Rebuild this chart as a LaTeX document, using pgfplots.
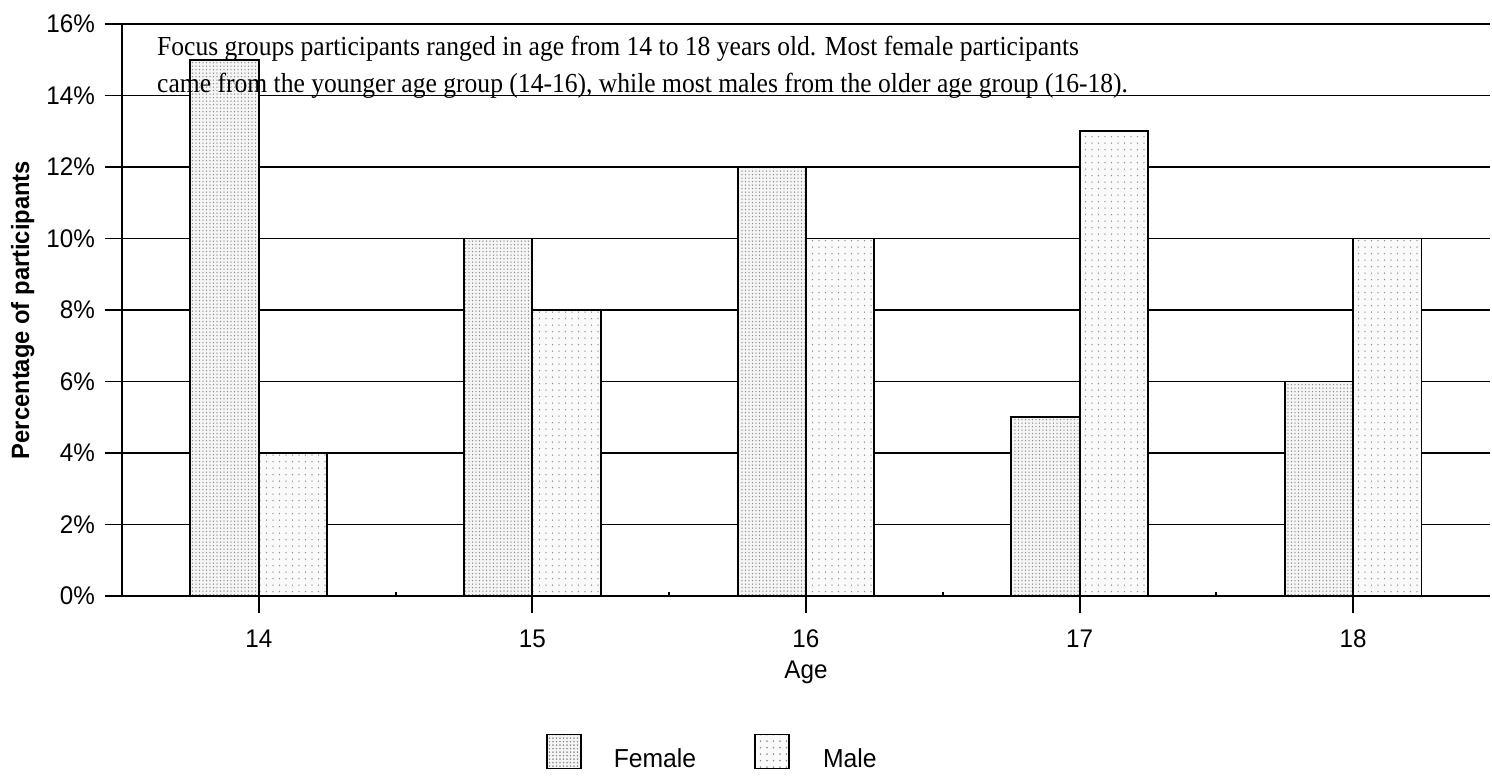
\documentclass[border=0pt]{standalone}
\usepackage{fontspec}
\setmainfont[FakeStretch=0.95]{Liberation Sans}
\newfontfamily\tnr[FakeStretch=0.93]{Liberation Serif}
\usepackage{pgfplots}
\pgfplotsset{compat=1.18}
\usetikzlibrary{patterns.meta}
\begin{document}
\begin{tikzpicture}
\begin{axis}[
  scale only axis,
  width=1368bp, height=572bp,
  xmin=13.5, xmax=18.5,
  ymin=0, ymax=16,
  axis lines=left,
  axis line style={-, line width=1.9bp},
  xtick={14,15,16,17,18},
  ytick={0,2,...,16},
  tick align=outside,
  major tick length=17bp,
  tick style={line width=1.9bp, black},
  extra x ticks={14.5,15.5,16.5,17.5},
  extra x tick labels={},
  extra x tick style={tick align=inside, major tick length=4bp, grid=none},
  ymajorgrids,
  grid style={line width=1.6bp, black},
  /pgf/number format/assume math mode=true,
  yticklabel={\pgfmathprintnumber{\tick}\%},
  tick label style={font=\fontsize{25.5bp}{30bp}\selectfont},
  yticklabel style={xshift=-6.5bp},
  xticklabel style={anchor=base, yshift=-34bp},
  xlabel={Age},
  xlabel style={font=\fontsize{25.5bp}{30bp}\selectfont, at={(rel axis cs:0.5,-0.1434)}, anchor=base},
  ylabel={\textbf{Percentage of participants}},
  ylabel style={font=\fontsize{25bp}{30bp}\selectfont, at={(rel axis cs:-0.0725,0.5)}, anchor=center},
  bar width=0.25,
  legend columns=2,
  legend style={draw=none, at={(rel axis cs:0.3099,-0.2812)}, anchor=west,
    inner sep=0pt, outer sep=0pt,
    nodes={inner sep=0pt, outer sep=0pt},
    font=\fontsize{26bp}{30bp}\selectfont,
    /tikz/every even column/.append style={column sep=58bp},
    /tikz/every odd column/.append style={column sep=0bp}},
  legend cell align=left,
]
\addplot[ybar, bar shift=-0.125, draw=black, line width=1.9bp, fill=gray!8,
  postaction={pattern={Dots[distance=3.5bp, radius=0.7bp]}, pattern color=gray!90},
  legend image code/.code={\draw[draw=black, line width=1.9bp, fill=gray!8, postaction={pattern={Dots[distance=3.5bp, radius=0.7bp]}, pattern color=gray!90}] (0bp,-4bp) rectangle (34bp,30bp);}]
  coordinates {(14,15) (15,10) (16,12) (17,5) (18,6)};
\addlegendentry{\hspace{32bp}\raisebox{11bp}{Female}}
\addplot[ybar, bar shift=0.125, draw=black, line width=1.9bp, fill=gray!4,
  postaction={pattern={Dots[distance=6.5bp, radius=0.7bp]}, pattern color=gray!90},
  legend image code/.code={\draw[draw=black, line width=1.9bp, fill=gray!4, postaction={pattern={Dots[distance=6.5bp, radius=0.7bp]}, pattern color=gray!90}] (0bp,-4bp) rectangle (34bp,30bp);}]
  coordinates {(14,4) (15,8) (16,10) (17,13) (18,10)};
\addlegendentry{\hspace{33bp}\raisebox{11bp}{Male}}
\node[anchor=base west, inner sep=0pt, font=\tnr\fontsize{27.5bp}{37bp}\selectfont]
  at (rel axis cs:0.02558,0.9458)
  {Focus groups participants ranged in age from 14 to 18 years old. Most female participants};
\node[anchor=base west, inner sep=0pt, font=\tnr\fontsize{27.5bp}{37bp}\selectfont]
  at (rel axis cs:0.02558,0.8797)
  {came from the younger age group (14-16), while most males from the older age group (16-18).};
\end{axis}
\useasboundingbox (current axis.origin) ++(-122bp,-176bp) rectangle ++(1492bp,772bp);
\end{tikzpicture}
\end{document}
